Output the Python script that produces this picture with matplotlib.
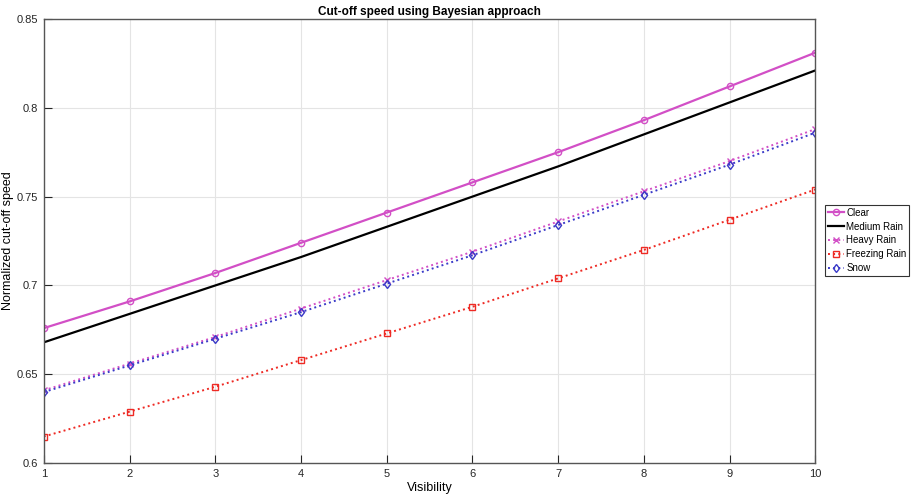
import matplotlib
matplotlib.use("Agg")
import matplotlib.pyplot as plt

plt.rcParams['font.family'] = ['Liberation Sans', 'DejaVu Sans']

visibility = [1, 2, 3, 4, 5, 6, 7, 8, 9, 10]
clear = [0.676, 0.691, 0.707, 0.724, 0.741, 0.758, 0.775, 0.793, 0.812, 0.831]
medium_rain = [0.668, 0.684, 0.700, 0.716, 0.733, 0.750, 0.767, 0.785, 0.803, 0.821]
heavy_rain = [0.641, 0.656, 0.671, 0.687, 0.703, 0.719, 0.736, 0.753, 0.770, 0.788]
freezing_rain = [0.615, 0.629, 0.643, 0.658, 0.673, 0.688, 0.704, 0.720, 0.737, 0.754]
snow = [0.640, 0.655, 0.670, 0.685, 0.701, 0.717, 0.734, 0.751, 0.768, 0.786]

fig = plt.figure(figsize=(9.12, 4.97), dpi=100)
ax = fig.add_axes([0.048, 0.068, 0.846, 0.894])

ax.plot(visibility, clear, color='#d24fc6', lw=1.6, marker='o', ms=4.5,
        mfc='none', mew=1.0, label='Clear')
ax.plot(visibility, medium_rain, color='black', lw=1.6, label='Medium Rain')
ax.plot(visibility, heavy_rain, color='#d24fc6', lw=1.4, ls=':', marker='x', ms=4,
        mew=1.0, label='Heavy Rain')
ax.plot(visibility, freezing_rain, color='#ee2a24', lw=1.4, ls=':', marker='s', ms=4,
        mfc='none', mew=1.0, label='Freezing Rain')
ax.plot(visibility, snow, color='#3a3ac8', lw=1.4, ls=':', marker='d', ms=4.5,
        mfc='none', mew=1.0, label='Snow')

ax.set_xlim(1, 10)
ax.set_ylim(0.6, 0.85)
ax.set_xticks(visibility)
ax.set_yticks([0.6, 0.65, 0.7, 0.75, 0.8, 0.85])
ax.set_yticklabels(['0.6', '0.65', '0.7', '0.75', '0.8', '0.85'])
ax.grid(True, color='#e4e4e4', lw=0.8)
ax.tick_params(direction='in', length=6, labelsize=8, colors='#262626', pad=4)
for s in ax.spines.values():
    s.set_color('#555555')
    s.set_linewidth(1.0)

ax.set_title('Cut-off speed using Bayesian approach', fontsize=8.5, fontweight='bold', pad=3)
ax.set_xlabel('Visibility', fontsize=9, labelpad=2)
ax.set_ylabel('Normalized cut-off speed', fontsize=9, labelpad=2)

leg = fig.legend(loc='upper left', bbox_to_anchor=(0.905, 0.588), fontsize=7,
                 frameon=True, fancybox=False, handlelength=1.6, borderpad=0.3,
                 labelspacing=0.4, handletextpad=0.25, borderaxespad=0)
leg.get_frame().set_edgecolor('black')
leg.get_frame().set_linewidth(0.8)

fig.savefig('out.png', dpi=100)
